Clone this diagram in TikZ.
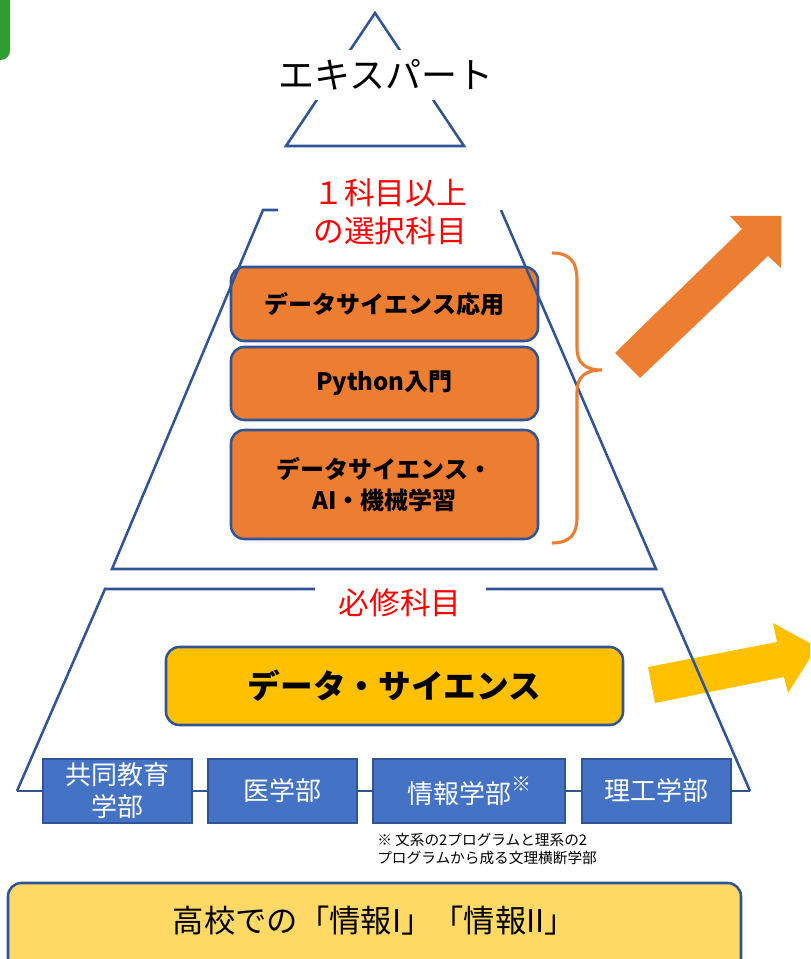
\documentclass[tikz,border=0pt]{standalone}
\usepackage{fontspec}
\setmainfont{Noto Sans CJK JP}
\definecolor{lineblue}{HTML}{2F5597}
\definecolor{oran}{HTML}{ED7D31}
\definecolor{yel}{HTML}{FFC000}
\definecolor{lyel}{HTML}{FFD966}
\definecolor{bbox}{HTML}{4472C4}
\definecolor{grn}{HTML}{2E9E32}
\tikzset{
  wh/.style 2 args={minimum width=#1*0.75pt, minimum height=#2*0.75pt},
  frame/.style={draw=lineblue, line width=1.9pt},
  obox/.style={draw=lineblue, line width=1.9pt, fill=oran, rounded corners=10pt, inner sep=0pt, align=center, font=\fontsize{18}{23}\selectfont\bfseries},
  ybox/.style={draw=lineblue, line width=1.9pt, fill=yel, rounded corners=10pt, inner sep=0pt, font=\fontsize{24.5}{28}\selectfont\bfseries},
  hbox/.style={draw=lineblue, line width=1.9pt, fill=lyel, rounded corners=10pt, inner sep=0pt},
  dbox/.style={draw=lineblue, line width=1.9pt, fill=bbox, inner sep=0pt, align=center, text=white, font=\fontsize{19.5}{24}\selectfont},
  redtxt/.style={text=red, align=center, inner sep=0pt, font=\fontsize{23}{29}\selectfont},
}
\begin{document}
\begin{tikzpicture}[x=0.75pt,y=-0.75pt]
\useasboundingbox (0,0) rectangle (810,959);
\clip (0,0) rectangle (810,959);
% green tab
\fill[grn, rounded corners=7pt] (-30,-30) rectangle (10,60);
% top triangle
\draw[frame, line join=miter] (286,146) -- (375,13) -- (464,146) -- cycle;
\node[fill=white, inner xsep=2pt, inner ysep=7.5pt, font=\fontsize{27}{30}\selectfont] (ex) at (386,75) {エキスパート};
% red labels
\node[redtxt] (sel) at (390,212) {１科目以上\\の選択科目};
\node[redtxt] (req) at (400,603) {必修科目};
% orange boxes
\node[obox, wh={307}{74}] (o1) at (384.5,304) {データサイエンス応用};
\node[obox, wh={307}{73}] (o2) at (384.5,383.5) {Python入門};
\node[obox, wh={307}{109}] (o3) at (384.5,484.5) {データサイエンス・\\AI・機械学習};
% middle trapezoid
\draw[frame, line join=miter] (278,210) -- (263,210) -- (112,569) -- (656,569) -- (501,210);
% brace
\draw[oran, line width=2.3pt] (552,253) .. controls (570,253) and (577,262) .. (577,280) -- (577,348) .. controls (577,363) and (585,370) .. (602,370) .. controls (585,370) and (577,377) .. (577,392) -- (577,518) .. controls (577,534) and (570,543) .. (552,543);
% orange arrow
\fill[oran] (615,353) -- (742,229) -- (730,216) -- (781,216) -- (781,268) -- (768,256) -- (640,378) -- cycle;
% yellow arrow
\fill[yel] (648,667) -- (777,642) -- (773,623) -- (817,647) -- (788,693) -- (784,677) -- (655,703) -- cycle;
% yellow box
\node[ybox, wh={457}{78}] (ds) at (394.5,686) {データ・サイエンス};
% lower trapezoid
\coordinate (lb) at (17,791);
\coordinate (rb) at (750,791);
\draw[frame, line join=miter] (315,589) -- (105,589) -- (lb);
\draw[frame, line join=miter] (486,589) -- (662,589) -- (rb);
% department boxes
\node[dbox, wh={149}{64}] (b1) at (117.5,791) {共同教育\\学部};
\node[dbox, wh={149}{64}] (b2) at (282.5,791) {医学部};
\node[dbox, wh={192}{64}] (b3) at (469,791) {情報学部\raisebox{0.45em}{\fontsize{15}{15}\selectfont ※}};
\node[dbox, wh={149}{64}] (b4) at (656.5,791) {理工学部};
\draw[frame] (lb) -- (b1.west);
\draw[frame] (b1.east) -- (b2.west);
\draw[frame] (b2.east) -- (b3.west);
\draw[frame] (b3.east) -- (b4.west);
\draw[frame] (b4.east) -- (rb);
% footnote
\node[anchor=north west, align=left, inner sep=0pt, font=\fontsize{11}{13.5}\selectfont] (fn) at (377,833) {※ 文系の2プログラムと理系の2\\プログラムから成る文理横断学部};
% high school box
\node[hbox, wh={733}{97}, label={[yshift=7.9pt, font=\fontsize{23.5}{26}\selectfont]center:{高校での「情報I」「情報II」}}] (hs) at (374.5,931.5) {};
\end{tikzpicture}
\end{document}
